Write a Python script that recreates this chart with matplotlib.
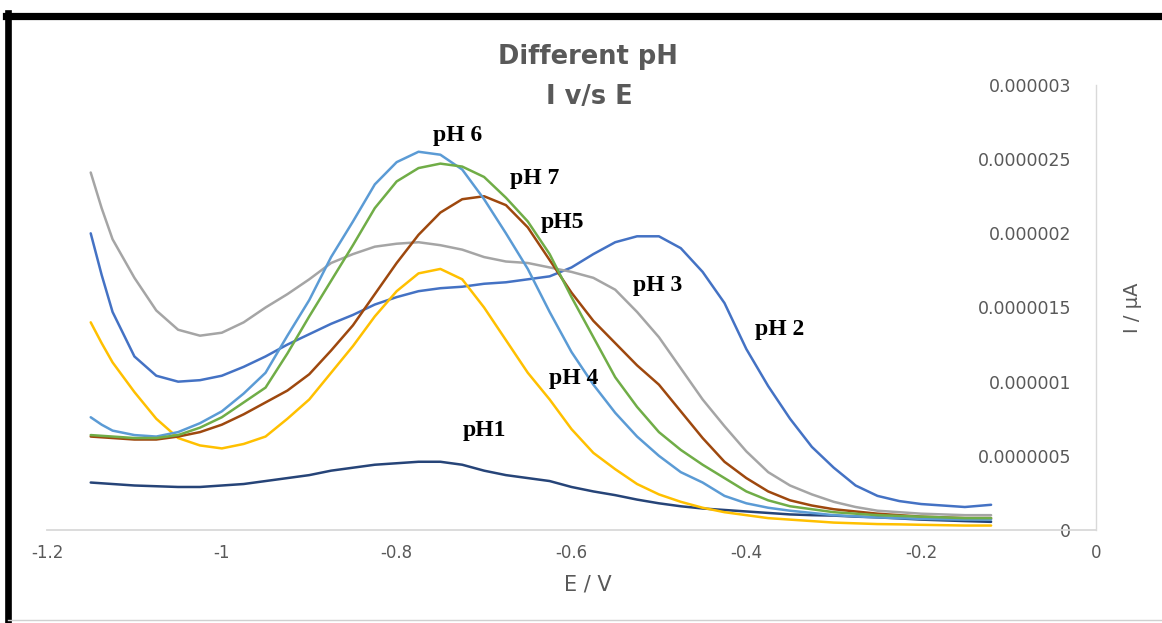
import matplotlib
matplotlib.use("Agg")
import matplotlib.pyplot as plt
from matplotlib.lines import Line2D

#%% ─── Data ──────────────────────────────────────────────────────────────────

E = [-1.15, -1.1375, -1.125, -1.10, -1.075, -1.05, -1.025, -1.00,
     -0.975, -0.95, -0.925, -0.90, -0.875, -0.85, -0.825, -0.80,
     -0.775, -0.75, -0.725, -0.70, -0.675, -0.65, -0.625, -0.60,
     -0.575, -0.55, -0.525, -0.50, -0.475, -0.45, -0.425, -0.40,
     -0.375, -0.35, -0.325, -0.30, -0.275, -0.25, -0.225, -0.20,
     -0.15, -0.12]

# currents, in units of 1e-6 (scaled when plotted)
pH1 = [0.32, 0.315, 0.31, 0.30, 0.295, 0.29, 0.29, 0.30,
       0.31, 0.33, 0.35, 0.37, 0.40, 0.42, 0.44, 0.45,
       0.46, 0.46, 0.44, 0.40, 0.37, 0.35, 0.33, 0.29,
       0.26, 0.235, 0.205, 0.18, 0.16, 0.145, 0.135, 0.125,
       0.115, 0.105, 0.10, 0.097, 0.09, 0.085, 0.078, 0.07,
       0.06, 0.055]
pH2 = [2.00, 1.72, 1.47, 1.17, 1.04, 1.00, 1.01, 1.04,
       1.10, 1.17, 1.25, 1.32, 1.39, 1.45, 1.52, 1.57,
       1.61, 1.63, 1.64, 1.66, 1.67, 1.69, 1.71, 1.77,
       1.86, 1.94, 1.98, 1.98, 1.90, 1.74, 1.53, 1.22,
       0.97, 0.75, 0.56, 0.42, 0.30, 0.23, 0.195, 0.175,
       0.155, 0.17]
pH3 = [2.41, 2.17, 1.96, 1.70, 1.48, 1.35, 1.31, 1.33,
       1.40, 1.50, 1.59, 1.69, 1.80, 1.86, 1.91, 1.93,
       1.94, 1.92, 1.89, 1.84, 1.81, 1.80, 1.77, 1.74,
       1.70, 1.62, 1.47, 1.30, 1.09, 0.88, 0.70, 0.53,
       0.39, 0.30, 0.24, 0.19, 0.155, 0.13, 0.12, 0.11,
       0.10, 0.10]
pH4 = [1.40, 1.26, 1.13, 0.93, 0.75, 0.62, 0.57, 0.55,
       0.58, 0.63, 0.75, 0.88, 1.06, 1.24, 1.44, 1.61,
       1.73, 1.76, 1.69, 1.50, 1.28, 1.06, 0.88, 0.68,
       0.52, 0.41, 0.31, 0.24, 0.19, 0.15, 0.12, 0.10,
       0.08, 0.07, 0.06, 0.05, 0.045, 0.04, 0.038, 0.035,
       0.03, 0.03]
pH5 = [0.63, 0.625, 0.62, 0.61, 0.61, 0.63, 0.66, 0.71,
       0.78, 0.86, 0.94, 1.05, 1.21, 1.38, 1.59, 1.80,
       1.99, 2.14, 2.23, 2.25, 2.19, 2.04, 1.82, 1.60,
       1.41, 1.26, 1.11, 0.98, 0.80, 0.62, 0.46, 0.35,
       0.26, 0.20, 0.165, 0.14, 0.125, 0.11, 0.10, 0.09,
       0.08, 0.08]
pH6 = [0.76, 0.71, 0.67, 0.64, 0.63, 0.66, 0.72, 0.80,
       0.92, 1.06, 1.31, 1.55, 1.84, 2.08, 2.33, 2.48,
       2.55, 2.53, 2.43, 2.23, 2.00, 1.76, 1.47, 1.20,
       0.98, 0.79, 0.63, 0.50, 0.39, 0.32, 0.23, 0.18,
       0.15, 0.13, 0.115, 0.10, 0.092, 0.085, 0.08, 0.075,
       0.07, 0.07]
pH7 = [0.64, 0.635, 0.63, 0.62, 0.62, 0.64, 0.69, 0.76,
       0.86, 0.96, 1.19, 1.44, 1.68, 1.92, 2.17, 2.35,
       2.44, 2.47, 2.45, 2.38, 2.24, 2.08, 1.86, 1.57,
       1.30, 1.03, 0.83, 0.66, 0.54, 0.44, 0.35, 0.26,
       0.20, 0.16, 0.14, 0.12, 0.11, 0.10, 0.095, 0.09,
       0.08, 0.08]

series_names = ["pH1", "pH2", "pH3", "pH4", "pH5", "pH6", "pH7"]
series_vals  = [pH1, pH2, pH3, pH4, pH5, pH6, pH7]
series_cols  = ["#264478", "#4472C4", "#A5A5A5", "#FFC000",
                "#9E480E", "#5B9BD5", "#70AD47"]

x_ticks  = [-1.2, -1.0, -0.8, -0.6, -0.4, -0.2, 0.0]
x_labels = ["-1.2", "-1", "-0.8", "-0.6", "-0.4", "-0.2", "0"]
y_ticks  = [0, 0.5e-6, 1e-6, 1.5e-6, 2e-6, 2.5e-6, 3e-6]
y_labels = ["0", "0.0000005", "0.000001", "0.0000015",
            "0.000002", "0.0000025", "0.000003"]

# curve annotations: text, E, I
ann_text = ["pH 6", "pH 7", "pH5", "pH 3", "pH 2", "pH 4", "pH1"]
ann_x    = [-0.730, -0.642, -0.610, -0.502, -0.362, -0.597, -0.700]
ann_y    = [2.66e-6, 2.37e-6, 2.07e-6, 1.65e-6, 1.35e-6, 1.02e-6, 0.67e-6]

GREY = "#595959"

#%% ─── Figure ────────────────────────────────────────────────────────────────

fig = plt.figure(figsize=(11.62, 6.23), dpi=100)
ax = fig.add_axes([0.04045, 0.14928, 0.90275, 0.71429])

for name, vals, col in zip(series_names, series_vals, series_cols):
    ax.plot(E, [v * 1e-6 for v in vals], color=col, lw=1.8,
            solid_capstyle="round", solid_joinstyle="round", label=name)

ax.set_xlim(-1.2, 0)
ax.set_ylim(0, 3e-6)

for s in ("top", "left"):
    ax.spines[s].set_visible(False)
ax.spines["bottom"].set_color("#D9D9D9")
ax.spines["bottom"].set_linewidth(1.3)
ax.spines["right"].set_color("#D9D9D9")
ax.spines["right"].set_linewidth(1.0)

ax.set_xticks(x_ticks)
ax.set_xticklabels(x_labels, fontsize=12, color=GREY)
ax.tick_params(axis="x", length=0, pad=10)

ax.yaxis.tick_right()
ax.set_yticks(y_ticks)
ax.set_yticklabels(y_labels, fontsize=12.5, color=GREY)
ax.tick_params(axis="y", length=0, pad=-18)
for lab in ax.get_yticklabels():
    lab.set_horizontalalignment("right")

ax.set_xlabel("E / V", fontsize=15, color=GREY)
ax.xaxis.set_label_coords(0.5157, -0.100)
ax.yaxis.set_label_position("right")
ax.set_ylabel("I / µA", fontsize=14, color=GREY)
ax.yaxis.set_label_coords(1.026, 0.50)

for t, xx, yy in zip(ann_text, ann_x, ann_y):
    ax.text(xx, yy, t, ha="center", va="center", fontsize=17,
            fontweight="bold", family="Liberation Serif", color="black")

# title
fig.text(0.506, 0.9085, "Different pH", ha="center", va="center",
         fontsize=18.5, fontweight="bold", color=GREY)
fig.text(0.507, 0.8443, "I v/s E", ha="center", va="center",
         fontsize=18.5, fontweight="bold", color=GREY)

# black frame on top / left, faint line at bottom
fig.add_artist(Line2D([0.0052, 1.0], [0.975, 0.975], color="black",
                      lw=5.2, transform=fig.transFigure))
fig.add_artist(Line2D([0.0073, 0.0073], [0.0, 0.9785], color="black",
                      lw=4.8, transform=fig.transFigure))
fig.add_artist(Line2D([0.0073, 1.0], [0.005, 0.005], color="#D0D0D0",
                      lw=1.0, transform=fig.transFigure))

fig.savefig("out.png", dpi=100)
